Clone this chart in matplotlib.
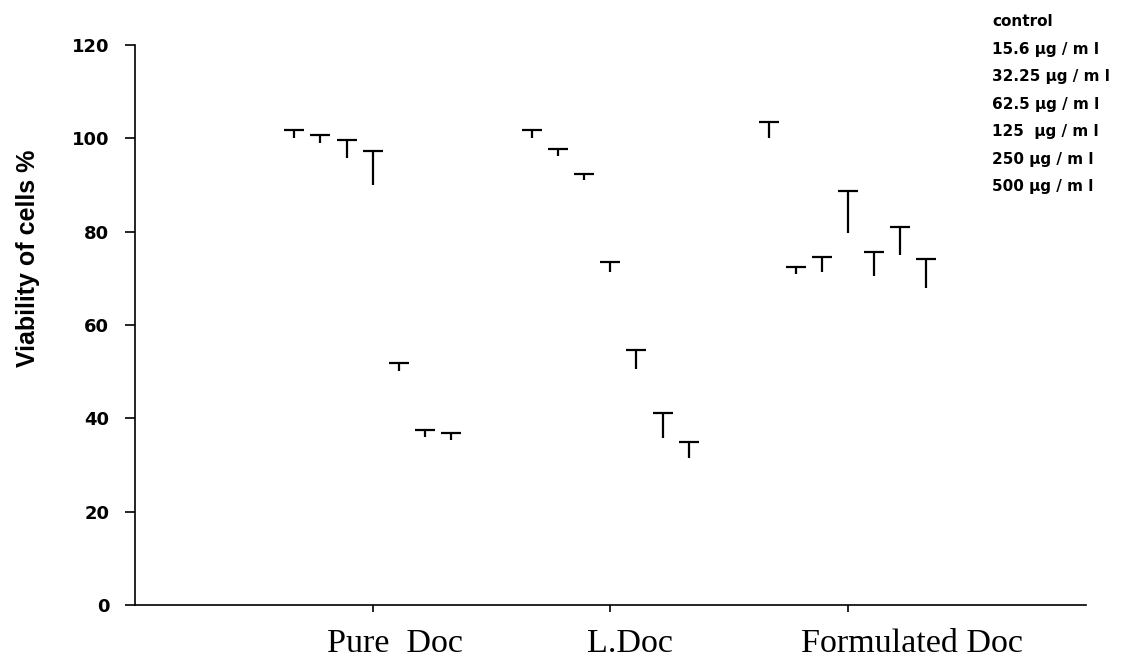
import numpy as np
import matplotlib
matplotlib.use('Agg')
import matplotlib.pyplot as plt
from matplotlib import font_manager

groups = ['Pure  Doc', 'L.Doc', 'Formulated Doc']
doses = ['control', '15.6 µg / m l', '32.25 µg / m l', '62.5 µg / m l',
         '125  µg / m l', '250 µg / m l', '500 µg / m l']

# viability (%) per dose, one value per group
means = [
    [101.8, 101.8, 103.4],
    [100.7, 97.8, 72.4],
    [99.6, 92.3, 74.5],
    [97.3, 73.5, 88.8],
    [51.8, 54.6, 75.6],
    [37.5, 41.2, 81.0],
    [36.9, 35.0, 74.2],
]
errors = [
    [1.8, 1.8, 3.4],
    [1.6, 1.6, 1.5],
    [3.9, 1.3, 3.2],
    [7.4, 2.1, 9.0],
    [1.6, 4.0, 5.0],
    [1.6, 5.5, 5.9],
    [1.5, 3.4, 6.3],
]

names = {f.name for f in font_manager.fontManager.ttflist}
narrow = 'Liberation Sans Narrow' if 'Liberation Sans Narrow' in names else 'Liberation Sans'

fig = plt.figure(figsize=(11.31, 6.61), dpi=100)
ax = fig.add_axes([0.1194, 0.0847, 0.8404, 0.8472])

x = np.arange(1, len(groups) + 1)
width = 0.11
n = len(doses)

for i, label in enumerate(doses):
    pos = x + (i - (n - 1) / 2) * width
    # white bars, invisible on white background
    ax.bar(pos, means[i], width, color='white', edgecolor='none', label=label)
    ax.errorbar(pos, means[i], yerr=[errors[i], np.zeros(len(groups))],
                fmt='_', color='black', markersize=14, mew=1.6,
                elinewidth=1.6, capsize=0)

ax.set_xlim(0, 4)
ax.set_ylim(0, 120)
ax.set_yticks(range(0, 121, 20))
ax.set_xticks(x)
ax.set_xticklabels([])
for t in ax.get_yticklabels():
    t.set_family('DejaVu Sans')
    t.set_fontweight('bold')
    t.set_fontsize(13)

# group names sit a bit right of their ticks in the original
shifts = [22, 20, 64]
for xi, name, dx in zip(x, groups, shifts):
    ax.annotate(name, xy=(xi, 0), xycoords=('data', 'axes fraction'),
                xytext=(dx, -23), textcoords='offset pixels',
                ha='center', va='top', family='Liberation Serif', fontsize=24.5)

ax.spines['top'].set_visible(False)
ax.spines['right'].set_visible(False)
ax.spines['left'].set_linewidth(1.2)
ax.spines['bottom'].set_linewidth(1.2)
ax.tick_params(axis='y', direction='out', length=7.5, width=1.2, pad=11)
ax.tick_params(axis='x', direction='out', length=5, width=1.2)

ax.set_ylabel('Viability of cells %', family=narrow,
              fontweight='bold', fontsize=19 if narrow != 'Liberation Sans' else 18)
ax.yaxis.set_label_coords(-0.1, 0.62)

leg = ax.legend(loc='upper left', bbox_to_anchor=(992 / 1131, 1 - 14 / 661),
                bbox_transform=fig.transFigure, frameon=False,
                borderpad=0, borderaxespad=0,
                handlelength=0, handletextpad=0, labelspacing=0.82,
                prop={'family': 'DejaVu Sans', 'weight': 'bold', 'size': 11})

fig.savefig('out.png', dpi=100)
